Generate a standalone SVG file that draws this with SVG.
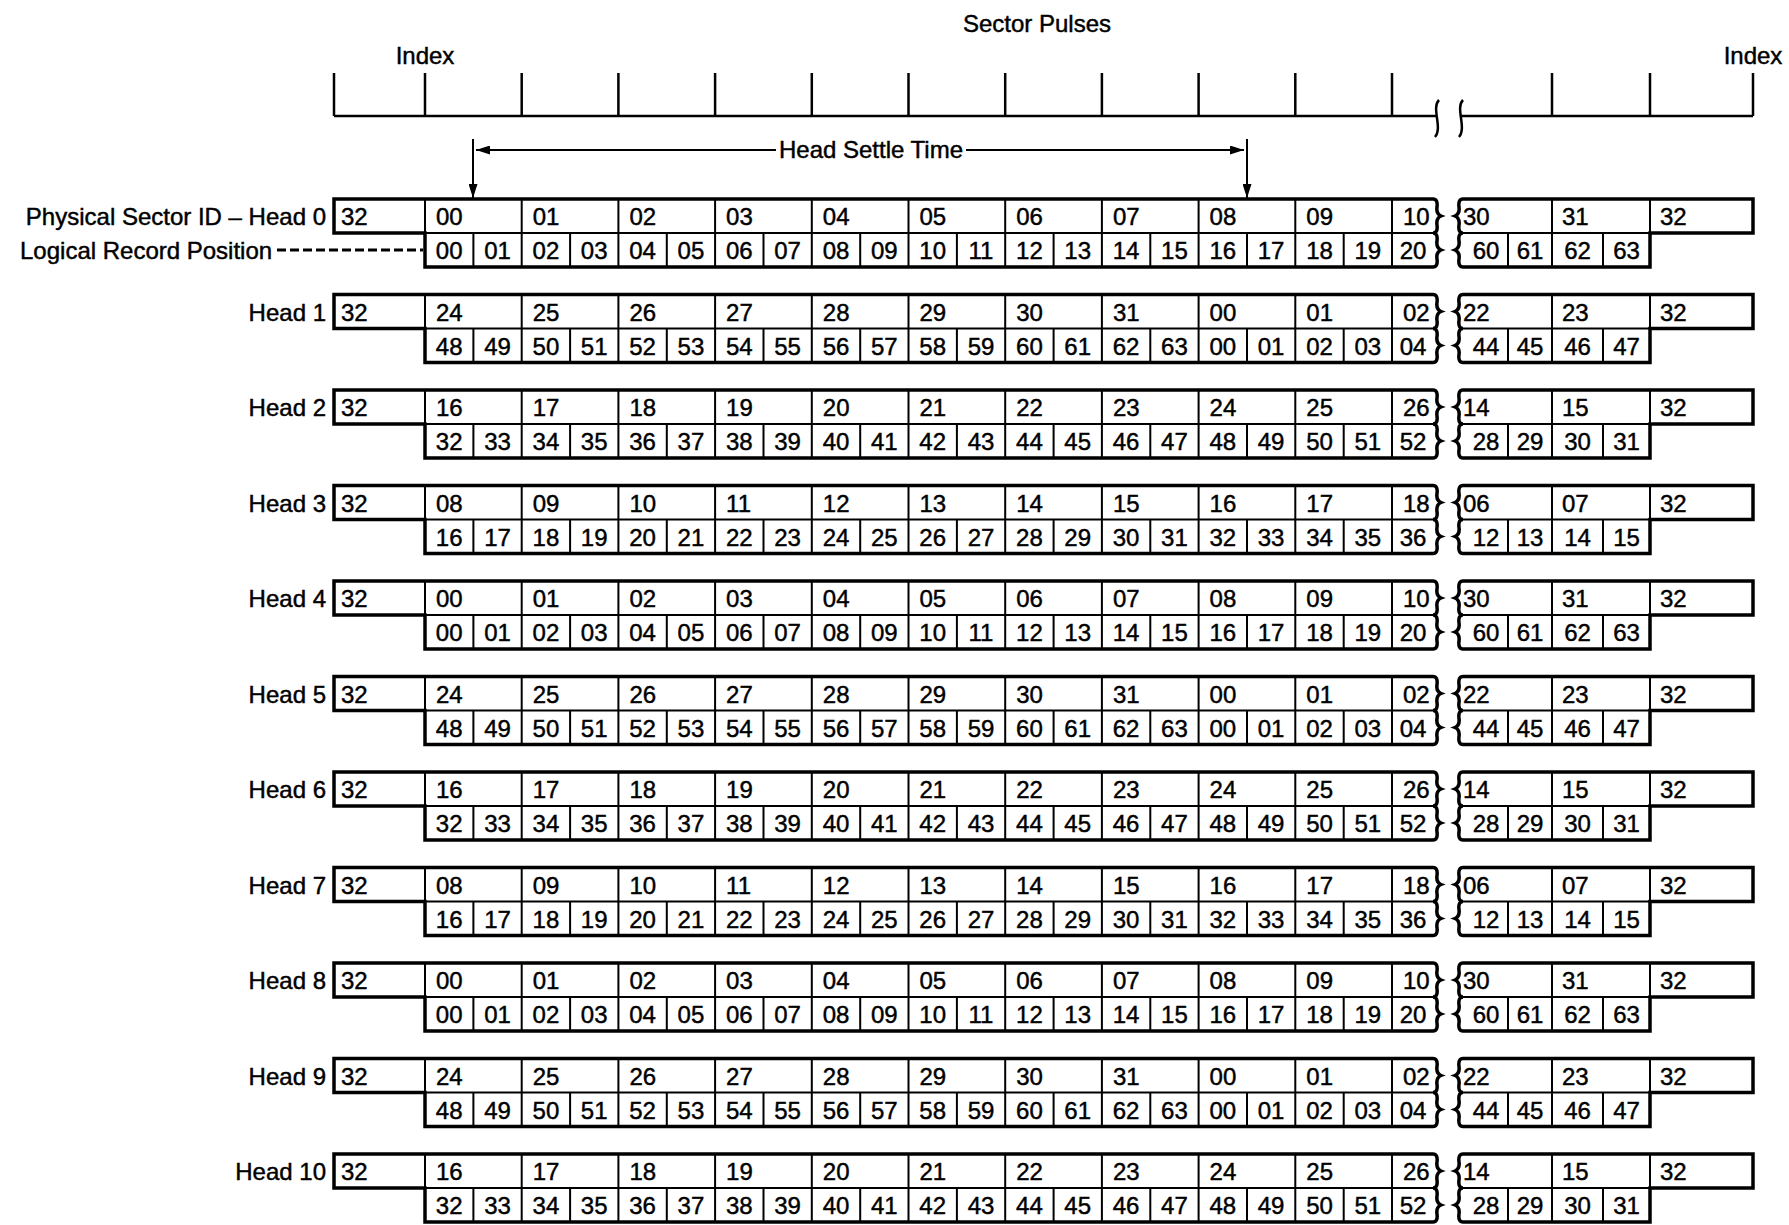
<svg xmlns="http://www.w3.org/2000/svg" xmlns:xlink="http://www.w3.org/1999/xlink" width="1789" height="1225" viewBox="0 0 1789 1225">
<style>
text{font-family:"Liberation Sans",Arial,sans-serif;font-size:24px;fill:#000;stroke:#000;stroke-width:0.45}
.m{text-anchor:middle}
.e{text-anchor:end}
.k{fill:none;stroke:#000;stroke-width:3.5;stroke-linejoin:miter}
.n{fill:none;stroke:#000;stroke-width:2}
.p{fill:none;stroke:#000;stroke-width:2.5}
.d{fill:none;stroke:#000;stroke-width:3;stroke-dasharray:9 4}
</style>
<defs>
<marker id="ah" viewBox="0 0 10 10" refX="10" refY="5" markerWidth="14" markerHeight="9" markerUnits="userSpaceOnUse" orient="auto" preserveAspectRatio="none"><path d="M0,0 L10,5 L0,10 z" fill="#000"/></marker>
<g id="frame">
<path class="k" d="M334,0 H1433 Q1438,0 1437,8 Q1436,15 1441,17 Q1436,19 1437,26 Q1438,34 1433,34 Q1438,34 1437,42 Q1436,49 1441,51 Q1436,53 1437,60 Q1438,68 1433,68 H425 V34 H334 Z"/>
<path class="k" d="M1463,0 H1753 V34 H1650 V68 H1463 Q1458,68 1459,60 Q1460,53 1455,51 Q1460,49 1459,42 Q1458,34 1463,34 Q1458,34 1459,26 Q1460,19 1455,17 Q1460,15 1459,8 Q1458,0 1463,0 Z"/>
<path class="n" d="M425,34 H1433 M1463,34 H1650 M425,0 V34 M521.7,0 V68 M618.4,0 V68 M715.1,0 V68 M811.8,0 V68 M908.5,0 V68 M1005.2,0 V68 M1101.9,0 V68 M1198.6,0 V68 M1295.3,0 V68 M1392,0 V68 M1552,0 V68 M1650,0 V34 M473.4,34 V68 M570.1,34 V68 M666.8,34 V68 M763.5,34 V68 M860.2,34 V68 M956.9,34 V68 M1053.6,34 V68 M1150.3,34 V68 M1247,34 V68 M1343.7,34 V68 M1508,34 V68 M1603,34 V68"/>
</g>
</defs>
<rect width="1789" height="1225" fill="#fff"/>
<g id="pulses">
<text class="m" x="1037" y="32">Sector Pulses</text>
<text class="m" x="425" y="64">Index</text>
<text class="m" x="1753" y="64">Index</text>
<path class="p" d="M334,116 H1437 M334,73 V116 M425,73 V116 M521.7,73 V116 M618.4,73 V116 M715.1,73 V116 M811.8,73 V116 M908.5,73 V116 M1005.2,73 V116 M1101.9,73 V116 M1198.6,73 V116 M1295.3,73 V116 M1392,73 V116 M1460,116 H1753 M1552,73 V116 M1650,73 V116 M1753,73 V116"/>
<path class="p" d="M1439,100 C1431,108 1443,128 1435,137 M1463,100 C1455,108 1467,128 1459,137"/>
</g>
<g id="connectors">
<text class="m" x="871" y="158">Head Settle Time</text>
<path class="n" d="M776,150 H476" marker-end="url(#ah)"/>
<path class="n" d="M966,150 H1244" marker-end="url(#ah)"/>
<path class="n" d="M473,139 V198" marker-end="url(#ah)"/>
<path class="n" d="M1247,139 V198" marker-end="url(#ah)"/>
<path class="d" d="M277,250 H423"/>
</g>
<g id="head0" transform="translate(0,199)">
<use xlink:href="#frame" href="#frame"/>
<text class="e" x="326" y="26">Physical Sector ID – Head 0</text>
<text x="20" y="60">Logical Record Position</text>
<text x="341" y="26">32</text><text x="436" y="26">00</text><text x="532.7" y="26">01</text><text x="629.4" y="26">02</text><text x="726.1" y="26">03</text><text x="822.8" y="26">04</text><text x="919.5" y="26">05</text><text x="1016.2" y="26">06</text><text x="1112.9" y="26">07</text><text x="1209.6" y="26">08</text><text x="1306.3" y="26">09</text><text x="1403" y="26">10</text><text x="1463" y="26">30</text><text x="1562" y="26">31</text><text x="1660" y="26">32</text>
<text class="m" x="449.2" y="60">00</text><text class="m" x="497.5" y="60">01</text><text class="m" x="545.9" y="60">02</text><text class="m" x="594.2" y="60">03</text><text class="m" x="642.6" y="60">04</text><text class="m" x="690.9" y="60">05</text><text class="m" x="739.3" y="60">06</text><text class="m" x="787.6" y="60">07</text><text class="m" x="836" y="60">08</text><text class="m" x="884.3" y="60">09</text><text class="m" x="932.7" y="60">10</text><text class="m" x="981" y="60">11</text><text class="m" x="1029.4" y="60">12</text><text class="m" x="1077.7" y="60">13</text><text class="m" x="1126.1" y="60">14</text><text class="m" x="1174.4" y="60">15</text><text class="m" x="1222.8" y="60">16</text><text class="m" x="1271.1" y="60">17</text><text class="m" x="1319.5" y="60">18</text><text class="m" x="1367.8" y="60">19</text><text class="m" x="1413" y="60">20</text><text class="m" x="1486" y="60">60</text><text class="m" x="1530" y="60">61</text><text class="m" x="1577.5" y="60">62</text><text class="m" x="1626.5" y="60">63</text>
</g>
<g id="head1" transform="translate(0,294.5)">
<use xlink:href="#frame" href="#frame"/>
<text class="e" x="326" y="26">Head 1</text>
<text x="341" y="26">32</text><text x="436" y="26">24</text><text x="532.7" y="26">25</text><text x="629.4" y="26">26</text><text x="726.1" y="26">27</text><text x="822.8" y="26">28</text><text x="919.5" y="26">29</text><text x="1016.2" y="26">30</text><text x="1112.9" y="26">31</text><text x="1209.6" y="26">00</text><text x="1306.3" y="26">01</text><text x="1403" y="26">02</text><text x="1463" y="26">22</text><text x="1562" y="26">23</text><text x="1660" y="26">32</text>
<text class="m" x="449.2" y="60">48</text><text class="m" x="497.5" y="60">49</text><text class="m" x="545.9" y="60">50</text><text class="m" x="594.2" y="60">51</text><text class="m" x="642.6" y="60">52</text><text class="m" x="690.9" y="60">53</text><text class="m" x="739.3" y="60">54</text><text class="m" x="787.6" y="60">55</text><text class="m" x="836" y="60">56</text><text class="m" x="884.3" y="60">57</text><text class="m" x="932.7" y="60">58</text><text class="m" x="981" y="60">59</text><text class="m" x="1029.4" y="60">60</text><text class="m" x="1077.7" y="60">61</text><text class="m" x="1126.1" y="60">62</text><text class="m" x="1174.4" y="60">63</text><text class="m" x="1222.8" y="60">00</text><text class="m" x="1271.1" y="60">01</text><text class="m" x="1319.5" y="60">02</text><text class="m" x="1367.8" y="60">03</text><text class="m" x="1413" y="60">04</text><text class="m" x="1486" y="60">44</text><text class="m" x="1530" y="60">45</text><text class="m" x="1577.5" y="60">46</text><text class="m" x="1626.5" y="60">47</text>
</g>
<g id="head2" transform="translate(0,390)">
<use xlink:href="#frame" href="#frame"/>
<text class="e" x="326" y="26">Head 2</text>
<text x="341" y="26">32</text><text x="436" y="26">16</text><text x="532.7" y="26">17</text><text x="629.4" y="26">18</text><text x="726.1" y="26">19</text><text x="822.8" y="26">20</text><text x="919.5" y="26">21</text><text x="1016.2" y="26">22</text><text x="1112.9" y="26">23</text><text x="1209.6" y="26">24</text><text x="1306.3" y="26">25</text><text x="1403" y="26">26</text><text x="1463" y="26">14</text><text x="1562" y="26">15</text><text x="1660" y="26">32</text>
<text class="m" x="449.2" y="60">32</text><text class="m" x="497.5" y="60">33</text><text class="m" x="545.9" y="60">34</text><text class="m" x="594.2" y="60">35</text><text class="m" x="642.6" y="60">36</text><text class="m" x="690.9" y="60">37</text><text class="m" x="739.3" y="60">38</text><text class="m" x="787.6" y="60">39</text><text class="m" x="836" y="60">40</text><text class="m" x="884.3" y="60">41</text><text class="m" x="932.7" y="60">42</text><text class="m" x="981" y="60">43</text><text class="m" x="1029.4" y="60">44</text><text class="m" x="1077.7" y="60">45</text><text class="m" x="1126.1" y="60">46</text><text class="m" x="1174.4" y="60">47</text><text class="m" x="1222.8" y="60">48</text><text class="m" x="1271.1" y="60">49</text><text class="m" x="1319.5" y="60">50</text><text class="m" x="1367.8" y="60">51</text><text class="m" x="1413" y="60">52</text><text class="m" x="1486" y="60">28</text><text class="m" x="1530" y="60">29</text><text class="m" x="1577.5" y="60">30</text><text class="m" x="1626.5" y="60">31</text>
</g>
<g id="head3" transform="translate(0,485.5)">
<use xlink:href="#frame" href="#frame"/>
<text class="e" x="326" y="26">Head 3</text>
<text x="341" y="26">32</text><text x="436" y="26">08</text><text x="532.7" y="26">09</text><text x="629.4" y="26">10</text><text x="726.1" y="26">11</text><text x="822.8" y="26">12</text><text x="919.5" y="26">13</text><text x="1016.2" y="26">14</text><text x="1112.9" y="26">15</text><text x="1209.6" y="26">16</text><text x="1306.3" y="26">17</text><text x="1403" y="26">18</text><text x="1463" y="26">06</text><text x="1562" y="26">07</text><text x="1660" y="26">32</text>
<text class="m" x="449.2" y="60">16</text><text class="m" x="497.5" y="60">17</text><text class="m" x="545.9" y="60">18</text><text class="m" x="594.2" y="60">19</text><text class="m" x="642.6" y="60">20</text><text class="m" x="690.9" y="60">21</text><text class="m" x="739.3" y="60">22</text><text class="m" x="787.6" y="60">23</text><text class="m" x="836" y="60">24</text><text class="m" x="884.3" y="60">25</text><text class="m" x="932.7" y="60">26</text><text class="m" x="981" y="60">27</text><text class="m" x="1029.4" y="60">28</text><text class="m" x="1077.7" y="60">29</text><text class="m" x="1126.1" y="60">30</text><text class="m" x="1174.4" y="60">31</text><text class="m" x="1222.8" y="60">32</text><text class="m" x="1271.1" y="60">33</text><text class="m" x="1319.5" y="60">34</text><text class="m" x="1367.8" y="60">35</text><text class="m" x="1413" y="60">36</text><text class="m" x="1486" y="60">12</text><text class="m" x="1530" y="60">13</text><text class="m" x="1577.5" y="60">14</text><text class="m" x="1626.5" y="60">15</text>
</g>
<g id="head4" transform="translate(0,581)">
<use xlink:href="#frame" href="#frame"/>
<text class="e" x="326" y="26">Head 4</text>
<text x="341" y="26">32</text><text x="436" y="26">00</text><text x="532.7" y="26">01</text><text x="629.4" y="26">02</text><text x="726.1" y="26">03</text><text x="822.8" y="26">04</text><text x="919.5" y="26">05</text><text x="1016.2" y="26">06</text><text x="1112.9" y="26">07</text><text x="1209.6" y="26">08</text><text x="1306.3" y="26">09</text><text x="1403" y="26">10</text><text x="1463" y="26">30</text><text x="1562" y="26">31</text><text x="1660" y="26">32</text>
<text class="m" x="449.2" y="60">00</text><text class="m" x="497.5" y="60">01</text><text class="m" x="545.9" y="60">02</text><text class="m" x="594.2" y="60">03</text><text class="m" x="642.6" y="60">04</text><text class="m" x="690.9" y="60">05</text><text class="m" x="739.3" y="60">06</text><text class="m" x="787.6" y="60">07</text><text class="m" x="836" y="60">08</text><text class="m" x="884.3" y="60">09</text><text class="m" x="932.7" y="60">10</text><text class="m" x="981" y="60">11</text><text class="m" x="1029.4" y="60">12</text><text class="m" x="1077.7" y="60">13</text><text class="m" x="1126.1" y="60">14</text><text class="m" x="1174.4" y="60">15</text><text class="m" x="1222.8" y="60">16</text><text class="m" x="1271.1" y="60">17</text><text class="m" x="1319.5" y="60">18</text><text class="m" x="1367.8" y="60">19</text><text class="m" x="1413" y="60">20</text><text class="m" x="1486" y="60">60</text><text class="m" x="1530" y="60">61</text><text class="m" x="1577.5" y="60">62</text><text class="m" x="1626.5" y="60">63</text>
</g>
<g id="head5" transform="translate(0,676.5)">
<use xlink:href="#frame" href="#frame"/>
<text class="e" x="326" y="26">Head 5</text>
<text x="341" y="26">32</text><text x="436" y="26">24</text><text x="532.7" y="26">25</text><text x="629.4" y="26">26</text><text x="726.1" y="26">27</text><text x="822.8" y="26">28</text><text x="919.5" y="26">29</text><text x="1016.2" y="26">30</text><text x="1112.9" y="26">31</text><text x="1209.6" y="26">00</text><text x="1306.3" y="26">01</text><text x="1403" y="26">02</text><text x="1463" y="26">22</text><text x="1562" y="26">23</text><text x="1660" y="26">32</text>
<text class="m" x="449.2" y="60">48</text><text class="m" x="497.5" y="60">49</text><text class="m" x="545.9" y="60">50</text><text class="m" x="594.2" y="60">51</text><text class="m" x="642.6" y="60">52</text><text class="m" x="690.9" y="60">53</text><text class="m" x="739.3" y="60">54</text><text class="m" x="787.6" y="60">55</text><text class="m" x="836" y="60">56</text><text class="m" x="884.3" y="60">57</text><text class="m" x="932.7" y="60">58</text><text class="m" x="981" y="60">59</text><text class="m" x="1029.4" y="60">60</text><text class="m" x="1077.7" y="60">61</text><text class="m" x="1126.1" y="60">62</text><text class="m" x="1174.4" y="60">63</text><text class="m" x="1222.8" y="60">00</text><text class="m" x="1271.1" y="60">01</text><text class="m" x="1319.5" y="60">02</text><text class="m" x="1367.8" y="60">03</text><text class="m" x="1413" y="60">04</text><text class="m" x="1486" y="60">44</text><text class="m" x="1530" y="60">45</text><text class="m" x="1577.5" y="60">46</text><text class="m" x="1626.5" y="60">47</text>
</g>
<g id="head6" transform="translate(0,772)">
<use xlink:href="#frame" href="#frame"/>
<text class="e" x="326" y="26">Head 6</text>
<text x="341" y="26">32</text><text x="436" y="26">16</text><text x="532.7" y="26">17</text><text x="629.4" y="26">18</text><text x="726.1" y="26">19</text><text x="822.8" y="26">20</text><text x="919.5" y="26">21</text><text x="1016.2" y="26">22</text><text x="1112.9" y="26">23</text><text x="1209.6" y="26">24</text><text x="1306.3" y="26">25</text><text x="1403" y="26">26</text><text x="1463" y="26">14</text><text x="1562" y="26">15</text><text x="1660" y="26">32</text>
<text class="m" x="449.2" y="60">32</text><text class="m" x="497.5" y="60">33</text><text class="m" x="545.9" y="60">34</text><text class="m" x="594.2" y="60">35</text><text class="m" x="642.6" y="60">36</text><text class="m" x="690.9" y="60">37</text><text class="m" x="739.3" y="60">38</text><text class="m" x="787.6" y="60">39</text><text class="m" x="836" y="60">40</text><text class="m" x="884.3" y="60">41</text><text class="m" x="932.7" y="60">42</text><text class="m" x="981" y="60">43</text><text class="m" x="1029.4" y="60">44</text><text class="m" x="1077.7" y="60">45</text><text class="m" x="1126.1" y="60">46</text><text class="m" x="1174.4" y="60">47</text><text class="m" x="1222.8" y="60">48</text><text class="m" x="1271.1" y="60">49</text><text class="m" x="1319.5" y="60">50</text><text class="m" x="1367.8" y="60">51</text><text class="m" x="1413" y="60">52</text><text class="m" x="1486" y="60">28</text><text class="m" x="1530" y="60">29</text><text class="m" x="1577.5" y="60">30</text><text class="m" x="1626.5" y="60">31</text>
</g>
<g id="head7" transform="translate(0,867.5)">
<use xlink:href="#frame" href="#frame"/>
<text class="e" x="326" y="26">Head 7</text>
<text x="341" y="26">32</text><text x="436" y="26">08</text><text x="532.7" y="26">09</text><text x="629.4" y="26">10</text><text x="726.1" y="26">11</text><text x="822.8" y="26">12</text><text x="919.5" y="26">13</text><text x="1016.2" y="26">14</text><text x="1112.9" y="26">15</text><text x="1209.6" y="26">16</text><text x="1306.3" y="26">17</text><text x="1403" y="26">18</text><text x="1463" y="26">06</text><text x="1562" y="26">07</text><text x="1660" y="26">32</text>
<text class="m" x="449.2" y="60">16</text><text class="m" x="497.5" y="60">17</text><text class="m" x="545.9" y="60">18</text><text class="m" x="594.2" y="60">19</text><text class="m" x="642.6" y="60">20</text><text class="m" x="690.9" y="60">21</text><text class="m" x="739.3" y="60">22</text><text class="m" x="787.6" y="60">23</text><text class="m" x="836" y="60">24</text><text class="m" x="884.3" y="60">25</text><text class="m" x="932.7" y="60">26</text><text class="m" x="981" y="60">27</text><text class="m" x="1029.4" y="60">28</text><text class="m" x="1077.7" y="60">29</text><text class="m" x="1126.1" y="60">30</text><text class="m" x="1174.4" y="60">31</text><text class="m" x="1222.8" y="60">32</text><text class="m" x="1271.1" y="60">33</text><text class="m" x="1319.5" y="60">34</text><text class="m" x="1367.8" y="60">35</text><text class="m" x="1413" y="60">36</text><text class="m" x="1486" y="60">12</text><text class="m" x="1530" y="60">13</text><text class="m" x="1577.5" y="60">14</text><text class="m" x="1626.5" y="60">15</text>
</g>
<g id="head8" transform="translate(0,963)">
<use xlink:href="#frame" href="#frame"/>
<text class="e" x="326" y="26">Head 8</text>
<text x="341" y="26">32</text><text x="436" y="26">00</text><text x="532.7" y="26">01</text><text x="629.4" y="26">02</text><text x="726.1" y="26">03</text><text x="822.8" y="26">04</text><text x="919.5" y="26">05</text><text x="1016.2" y="26">06</text><text x="1112.9" y="26">07</text><text x="1209.6" y="26">08</text><text x="1306.3" y="26">09</text><text x="1403" y="26">10</text><text x="1463" y="26">30</text><text x="1562" y="26">31</text><text x="1660" y="26">32</text>
<text class="m" x="449.2" y="60">00</text><text class="m" x="497.5" y="60">01</text><text class="m" x="545.9" y="60">02</text><text class="m" x="594.2" y="60">03</text><text class="m" x="642.6" y="60">04</text><text class="m" x="690.9" y="60">05</text><text class="m" x="739.3" y="60">06</text><text class="m" x="787.6" y="60">07</text><text class="m" x="836" y="60">08</text><text class="m" x="884.3" y="60">09</text><text class="m" x="932.7" y="60">10</text><text class="m" x="981" y="60">11</text><text class="m" x="1029.4" y="60">12</text><text class="m" x="1077.7" y="60">13</text><text class="m" x="1126.1" y="60">14</text><text class="m" x="1174.4" y="60">15</text><text class="m" x="1222.8" y="60">16</text><text class="m" x="1271.1" y="60">17</text><text class="m" x="1319.5" y="60">18</text><text class="m" x="1367.8" y="60">19</text><text class="m" x="1413" y="60">20</text><text class="m" x="1486" y="60">60</text><text class="m" x="1530" y="60">61</text><text class="m" x="1577.5" y="60">62</text><text class="m" x="1626.5" y="60">63</text>
</g>
<g id="head9" transform="translate(0,1058.5)">
<use xlink:href="#frame" href="#frame"/>
<text class="e" x="326" y="26">Head 9</text>
<text x="341" y="26">32</text><text x="436" y="26">24</text><text x="532.7" y="26">25</text><text x="629.4" y="26">26</text><text x="726.1" y="26">27</text><text x="822.8" y="26">28</text><text x="919.5" y="26">29</text><text x="1016.2" y="26">30</text><text x="1112.9" y="26">31</text><text x="1209.6" y="26">00</text><text x="1306.3" y="26">01</text><text x="1403" y="26">02</text><text x="1463" y="26">22</text><text x="1562" y="26">23</text><text x="1660" y="26">32</text>
<text class="m" x="449.2" y="60">48</text><text class="m" x="497.5" y="60">49</text><text class="m" x="545.9" y="60">50</text><text class="m" x="594.2" y="60">51</text><text class="m" x="642.6" y="60">52</text><text class="m" x="690.9" y="60">53</text><text class="m" x="739.3" y="60">54</text><text class="m" x="787.6" y="60">55</text><text class="m" x="836" y="60">56</text><text class="m" x="884.3" y="60">57</text><text class="m" x="932.7" y="60">58</text><text class="m" x="981" y="60">59</text><text class="m" x="1029.4" y="60">60</text><text class="m" x="1077.7" y="60">61</text><text class="m" x="1126.1" y="60">62</text><text class="m" x="1174.4" y="60">63</text><text class="m" x="1222.8" y="60">00</text><text class="m" x="1271.1" y="60">01</text><text class="m" x="1319.5" y="60">02</text><text class="m" x="1367.8" y="60">03</text><text class="m" x="1413" y="60">04</text><text class="m" x="1486" y="60">44</text><text class="m" x="1530" y="60">45</text><text class="m" x="1577.5" y="60">46</text><text class="m" x="1626.5" y="60">47</text>
</g>
<g id="head10" transform="translate(0,1154)">
<use xlink:href="#frame" href="#frame"/>
<text class="e" x="326" y="26">Head 10</text>
<text x="341" y="26">32</text><text x="436" y="26">16</text><text x="532.7" y="26">17</text><text x="629.4" y="26">18</text><text x="726.1" y="26">19</text><text x="822.8" y="26">20</text><text x="919.5" y="26">21</text><text x="1016.2" y="26">22</text><text x="1112.9" y="26">23</text><text x="1209.6" y="26">24</text><text x="1306.3" y="26">25</text><text x="1403" y="26">26</text><text x="1463" y="26">14</text><text x="1562" y="26">15</text><text x="1660" y="26">32</text>
<text class="m" x="449.2" y="60">32</text><text class="m" x="497.5" y="60">33</text><text class="m" x="545.9" y="60">34</text><text class="m" x="594.2" y="60">35</text><text class="m" x="642.6" y="60">36</text><text class="m" x="690.9" y="60">37</text><text class="m" x="739.3" y="60">38</text><text class="m" x="787.6" y="60">39</text><text class="m" x="836" y="60">40</text><text class="m" x="884.3" y="60">41</text><text class="m" x="932.7" y="60">42</text><text class="m" x="981" y="60">43</text><text class="m" x="1029.4" y="60">44</text><text class="m" x="1077.7" y="60">45</text><text class="m" x="1126.1" y="60">46</text><text class="m" x="1174.4" y="60">47</text><text class="m" x="1222.8" y="60">48</text><text class="m" x="1271.1" y="60">49</text><text class="m" x="1319.5" y="60">50</text><text class="m" x="1367.8" y="60">51</text><text class="m" x="1413" y="60">52</text><text class="m" x="1486" y="60">28</text><text class="m" x="1530" y="60">29</text><text class="m" x="1577.5" y="60">30</text><text class="m" x="1626.5" y="60">31</text>
</g>
</svg>
